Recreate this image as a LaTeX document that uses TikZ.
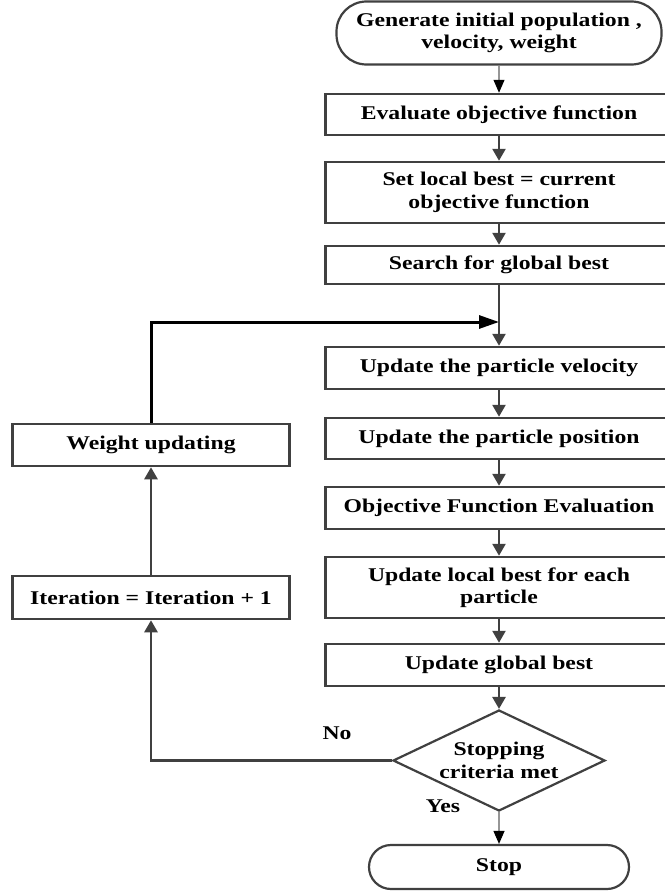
\documentclass[tikz,border=0pt]{standalone}
\usepackage{fontspec}
\setmainfont{Liberation Serif}[FakeStretch=1.22]
\usetikzlibrary{arrows.meta,shapes.geometric}
\definecolor{boxgray}{RGB}{64,64,64}
\definecolor{thingray}{RGB}{150,150,150}
\begin{document}
\begin{tikzpicture}[x=1bp,y=-1bp,
  txt/.style={font=\bfseries\fontsize{19.5}{22.5}\selectfont, align=center, text=black},
  box/.style={txt, draw=boxgray, line width=2.5bp, rectangle, inner sep=0pt},
  mainbox/.style={box, minimum width=347bp},
  sidebox/.style={box, minimum width=277bp, minimum height=42bp},
  term/.style={txt, draw=boxgray, line width=2.2bp, inner sep=0pt},
  dia/.style={txt, diamond, draw=boxgray, line width=2.2bp, aspect=2.12, minimum width=212bp, minimum height=101bp, inner sep=0pt},
  arr/.style={draw=boxgray, line width=2.6bp, -{Triangle[length=12bp,width=13bp]}},
  thinarr/.style={draw=thingray, line width=1.1bp, -{Triangle[length=13bp,width=11bp,color=black]}},
  fb/.style={draw=black, line width=3bp, -{Triangle[length=20bp,width=13bp]}}
]
\path[use as bounding box, clip] (0,0) rectangle (665,892);
\fill[white] (0,0) rectangle (665,892);

\node[term, minimum width=325bp, minimum height=63bp, rounded corners=30bp] (gen) at (499,33) {Generate initial population ,\\velocity, weight};
\node[mainbox, minimum height=41bp] (eval) at (499,114.5) {Evaluate objective function};
\node[mainbox, minimum height=61bp] (setlb) at (499,192.5) {Set local best = current\\objective function};
\node[mainbox, minimum height=38bp] (search) at (499,265) {Search for global best};
\coordinate (m) at (499,322);
\node[mainbox, minimum height=42bp] (vel) at (499,368) {Update the particle velocity};
\node[mainbox, minimum height=41bp] (pos) at (499,438.5) {Update the particle position};
\node[mainbox, minimum height=42bp] (obj) at (499,508) {Objective Function Evaluation};
\node[mainbox, minimum height=61bp] (lb) at (499,587.5) {Update local best for each\\particle};
\node[mainbox, minimum height=42bp] (gb) at (499,665) {Update global best};
\node[dia] (dia) at (499,760.5) {Stopping\\criteria met};
\node[term, minimum width=260bp, minimum height=44bp, rounded corners=22bp] (stop) at (499,867) {Stop};

\node[sidebox] (weight) at (151,445) {Weight updating};
\node[sidebox, minimum height=43bp] (iter) at (151,597.5) {Iteration = Iteration + 1};

\node[txt] (no) at (337,733) {No};
\node[txt] (yes) at (443,806) {Yes};

\draw[thinarr] (gen) -- (eval);
\draw[arr] (eval) -- (setlb);
\draw[arr] (setlb) -- (search);
\draw[arr] (search) -- (vel);
\draw[arr] (vel) -- (pos);
\draw[arr] (pos) -- (obj);
\draw[arr] (obj) -- (lb);
\draw[arr] (lb) -- (gb);
\draw[arr] (gb) -- (dia);
\draw[thinarr] (dia) -- (stop);
\draw[arr] (dia.west) -| (iter.south);
\draw[arr] (iter) -- (weight);
\draw[fb] (weight.north) |- (m);
\end{tikzpicture}
\end{document}
